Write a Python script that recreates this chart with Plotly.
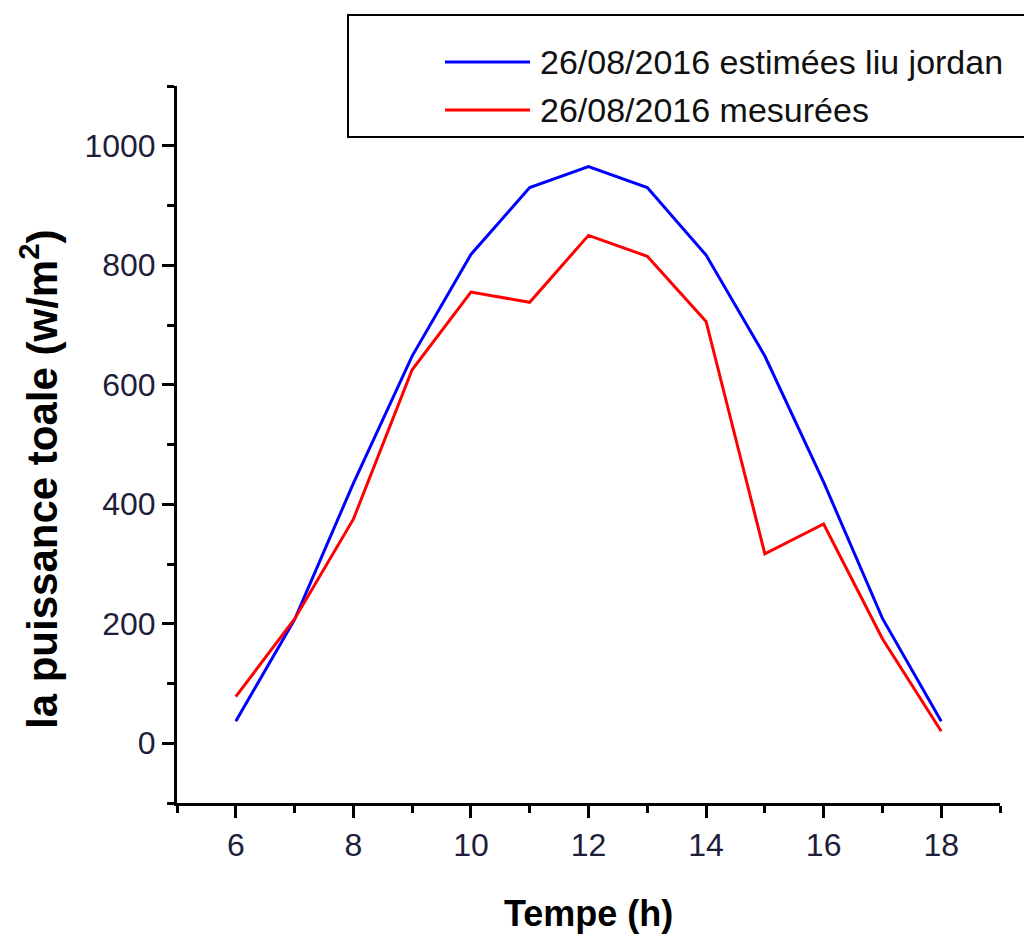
import plotly.graph_objects as go

# Hourly irradiance on 26/08/2016
hours = [6, 7, 8, 9, 10, 11, 12, 13, 14, 15, 16, 17, 18]
estimated = [37, 207, 435, 648, 818, 930, 965, 930, 817, 648, 437, 209, 37]
measured = [78, 208, 375, 625, 755, 738, 850, 815, 706, 317, 367, 175, 20]

name_est = "26/08/2016 estimées liu jordan"
name_mes = "26/08/2016 mesurées"

W, H = 1024, 935
L, R, T, B = 177, 24, 86, 132
PW, PH = W - L - R, H - T - B


def px(x):
    return (x - L) / PW


def py(y):
    return (H - B - y) / PH


FONT = "Liberation Sans, Arial, sans-serif"
TICK_COLOR = "#1e1e3a"

fig = go.Figure()
fig.add_trace(go.Scatter(x=hours, y=estimated, mode="lines", name=name_est,
                         line=dict(color="#0000ff", width=3)))
fig.add_trace(go.Scatter(x=hours, y=measured, mode="lines", name=name_mes,
                         line=dict(color="#ff0000", width=3)))

axis_common = dict(
    showline=True, linecolor="black", linewidth=3, mirror=False,
    showgrid=False, zeroline=False,
    ticks="outside", ticklen=12, tickwidth=3, tickcolor="black",
    tickfont=dict(family=FONT, size=32, color=TICK_COLOR),
)

fig.update_xaxes(range=[5, 19], tick0=6, dtick=2,
                 minor=dict(ticks="outside", ticklen=7, tickwidth=3,
                            tickcolor="black", dtick=1, tick0=5),
                 **axis_common)
fig.update_yaxes(range=[-100, 1100], tick0=0, dtick=200,
                 minor=dict(ticks="outside", ticklen=7, tickwidth=3,
                            tickcolor="black", dtick=100, tick0=-100),
                 **axis_common)

# Legend frame and entries
shapes = [
    dict(type="rect", xref="paper", yref="paper",
         x0=px(348), x1=px(1034), y0=py(137), y1=py(15),
         line=dict(color="black", width=2), fillcolor="rgba(0,0,0,0)"),
    dict(type="line", xref="paper", yref="paper",
         x0=px(445), x1=px(530), y0=py(62), y1=py(62),
         line=dict(color="#0000ff", width=3)),
    dict(type="line", xref="paper", yref="paper",
         x0=px(445), x1=px(530), y0=py(110), y1=py(110),
         line=dict(color="#ff0000", width=3)),
]

annotations = [
    dict(text=name_est, xref="paper", yref="paper", x=px(538), y=py(62),
         xanchor="left", yanchor="middle", showarrow=False,
         font=dict(family=FONT, size=34, color="#111")),
    dict(text=name_mes, xref="paper", yref="paper", x=px(538), y=py(110),
         xanchor="left", yanchor="middle", showarrow=False,
         font=dict(family=FONT, size=34, color="#111")),
    dict(text="<b>Tempe (h)</b>", xref="paper", yref="paper",
         x=px(588), y=py(913), xanchor="center", yanchor="middle",
         showarrow=False, font=dict(family=FONT, size=36, color="black")),
    dict(text="<b>la puissance toale (w/m<sup>2</sup>)</b>", xref="paper",
         yref="paper", x=px(39), y=py(479), xanchor="center",
         yanchor="middle", textangle=-90, showarrow=False,
         font=dict(family=FONT, size=42, color="black")),
]

fig.update_layout(
    width=W, height=H,
    margin=dict(l=L, r=R, t=T, b=B),
    paper_bgcolor="white", plot_bgcolor="white",
    showlegend=False,
    shapes=shapes,
    annotations=annotations,
)

fig.write_html("out.html")
